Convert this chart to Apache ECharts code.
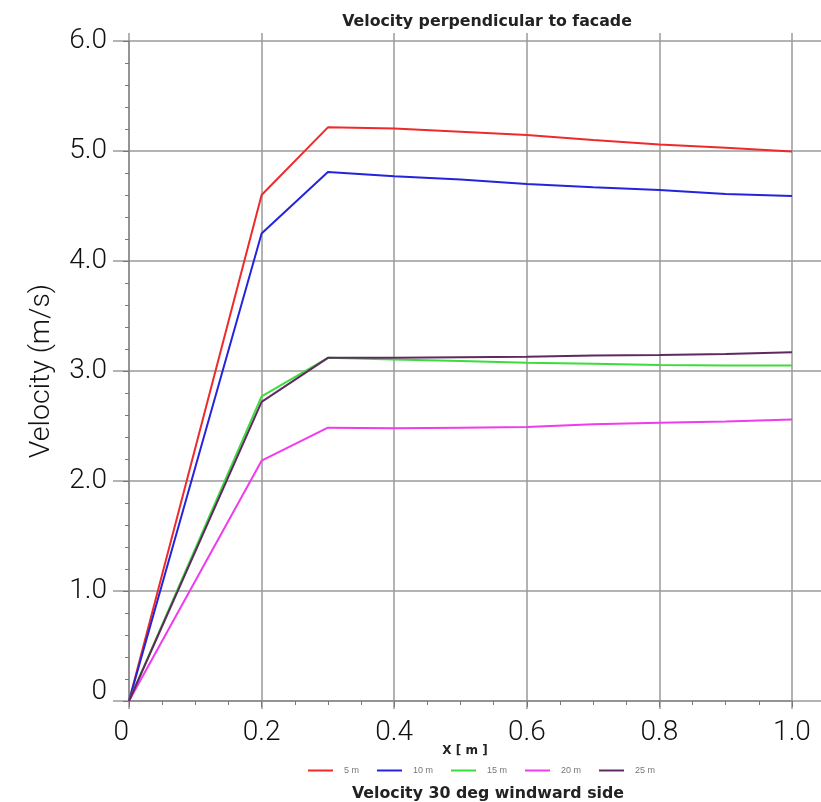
<!DOCTYPE html>
<html>
<head>
<meta charset="utf-8">
<script src="https://cdn.jsdelivr.net/npm/echarts@6/dist/echarts.min.js"></script>
<style>
  html, body { margin: 0; padding: 0; background: #fff; }
  #chart { width: 821px; height: 802px; }
</style>
</head>
<body>
<div id="chart"></div>
<script>
// ---- data ----
const xValues = [0, 0.2, 0.3, 0.4, 0.5, 0.6, 0.7, 0.8, 0.9, 1.0];
const seriesNames = ['5 m', '10 m', '15 m', '20 m', '25 m'];
const v5m  = [0, 4.60, 5.215, 5.205, 5.175, 5.145, 5.10, 5.06, 5.03, 4.995];
const v10m = [0, 4.25, 4.81, 4.77, 4.74, 4.70, 4.67, 4.645, 4.61, 4.59];
const v15m = [0, 2.77, 3.12, 3.105, 3.09, 3.075, 3.065, 3.055, 3.05, 3.05];
const v20m = [0, 2.185, 2.485, 2.48, 2.485, 2.49, 2.515, 2.53, 2.54, 2.56];
const v25m = [0, 2.72, 3.12, 3.12, 3.125, 3.13, 3.14, 3.145, 3.155, 3.17];
const xTickLabels = ['0', '0.2', '0.4', '0.6', '0.8', '1.0'];
const yTickLabels = ['0', '1.0', '2.0', '3.0', '4.0', '5.0', '6.0'];

const titleText = 'Velocity perpendicular to facade';
const subTitleText = 'Velocity 30 deg windward side';
const xAxisName = 'X [ m ]';
const yAxisName = 'Velocity (m/s)';

const colors = ['#ee2a2a', '#2424dd', '#3ddc3d', '#ee3cee', '#5e2a60'];
const allValues = [v5m, v10m, v15m, v20m, v25m];

const gridColor = '#9a9a9a';
const numFont = { fontFamily: 'Roboto', fontWeight: 300, fontSize: 28, color: '#111' };

const chart = echarts.init(document.getElementById('chart'), null, { renderer: 'canvas' });

const series = seriesNames.map((n, i) => ({
  name: n,
  type: 'line',
  xAxisIndex: 0,
  yAxisIndex: 0,
  data: xValues.map((x, j) => [x, allValues[i][j]]),
  symbol: 'none',
  lineStyle: { color: colors[i], width: 2 },
  itemStyle: { color: colors[i] },
  animation: false
}));

const option = {
  animation: false,
  backgroundColor: '#fff',
  title: [
    { text: titleText, left: 482, top: 9, textAlign: 'center',
      textStyle: { fontFamily: 'DejaVu Sans', fontWeight: 'bold', fontSize: 15.8, color: '#222' } },
    { text: xAxisName, left: 460, top: 740, textAlign: 'center',
      textStyle: { fontFamily: 'DejaVu Sans', fontWeight: 'bold', fontSize: 12, color: '#222' } },
    { text: subTitleText, left: 483, top: 781, textAlign: 'center',
      textStyle: { fontFamily: 'DejaVu Sans', fontWeight: 'bold', fontSize: 15.8, color: '#222' } }
  ],
  legend: {
    data: seriesNames,
    left: 303,
    top: 761,
    icon: 'rect',
    itemWidth: 25,
    itemHeight: 2,
    itemGap: 18,
    textStyle: { fontFamily: 'Liberation Sans', fontSize: 9, color: '#777', padding: [0, 0, 0, 6] }
  },
  grid: [
    { left: 129, right: 29, top: 41, bottom: 101 },   // data grid
    { left: 113, right: 0, top: 41, bottom: 101 },    // horizontal grid lines
    { left: 129, right: 29, top: 33, bottom: 93 }     // vertical grid lines
  ],
  xAxis: [
    {
      gridIndex: 0, type: 'value', min: 0, max: 1, interval: 0.2,
      offset: 8,
      axisLine: { show: true, lineStyle: { color: '#8a8a8a', width: 1.5 } },
      axisTick: { show: true, length: 6, lineStyle: { color: '#777' } },
      minorTick: { show: true, splitNumber: 4, length: 4, lineStyle: { color: '#777' } },
      splitLine: { show: false },
      axisLabel: Object.assign({}, numFont, {
        margin: 10,
        alignMinLabel: 'right',
        formatter: (v) => xTickLabels[Math.round(v / 0.2)]
      })
    },
    { gridIndex: 1, type: 'value', min: 0, max: 1, show: false },
    {
      gridIndex: 2, type: 'value', min: 0, max: 1, interval: 0.2,
      axisLine: { show: false }, axisTick: { show: false }, axisLabel: { show: false },
      splitLine: { show: true, lineStyle: { color: gridColor, width: 1.5 } }
    }
  ],
  yAxis: [
    {
      gridIndex: 0, type: 'value', min: 0, max: 6, interval: 1,
      offset: 15,
      name: yAxisName,
      nameLocation: 'middle',
      nameGap: 58,
      nameTextStyle: { fontFamily: 'Roboto', fontWeight: 300, fontSize: 28.5, color: '#111' },
      axisLine: { show: true, lineStyle: { color: '#8a8a8a', width: 1.5 } },
      axisTick: { show: true, length: 6, lineStyle: { color: '#777' } },
      minorTick: { show: true, splitNumber: 5, length: 4, lineStyle: { color: '#777' } },
      splitLine: { show: false },
      axisLabel: Object.assign({}, numFont, {
        margin: 7,
        lineHeight: 18,
        verticalAlignMinLabel: 'bottom',
        formatter: (v) => yTickLabels[Math.round(v)]
      })
    },
    {
      gridIndex: 1, type: 'value', min: 0, max: 6, interval: 1,
      axisLine: { show: false }, axisTick: { show: false }, axisLabel: { show: false },
      splitLine: { show: true, lineStyle: { color: gridColor, width: 1.5 } }
    },
    { gridIndex: 2, type: 'value', min: 0, max: 1, show: false }
  ],
  series: series
};

chart.setOption(option);
</script>
</body>
</html>
